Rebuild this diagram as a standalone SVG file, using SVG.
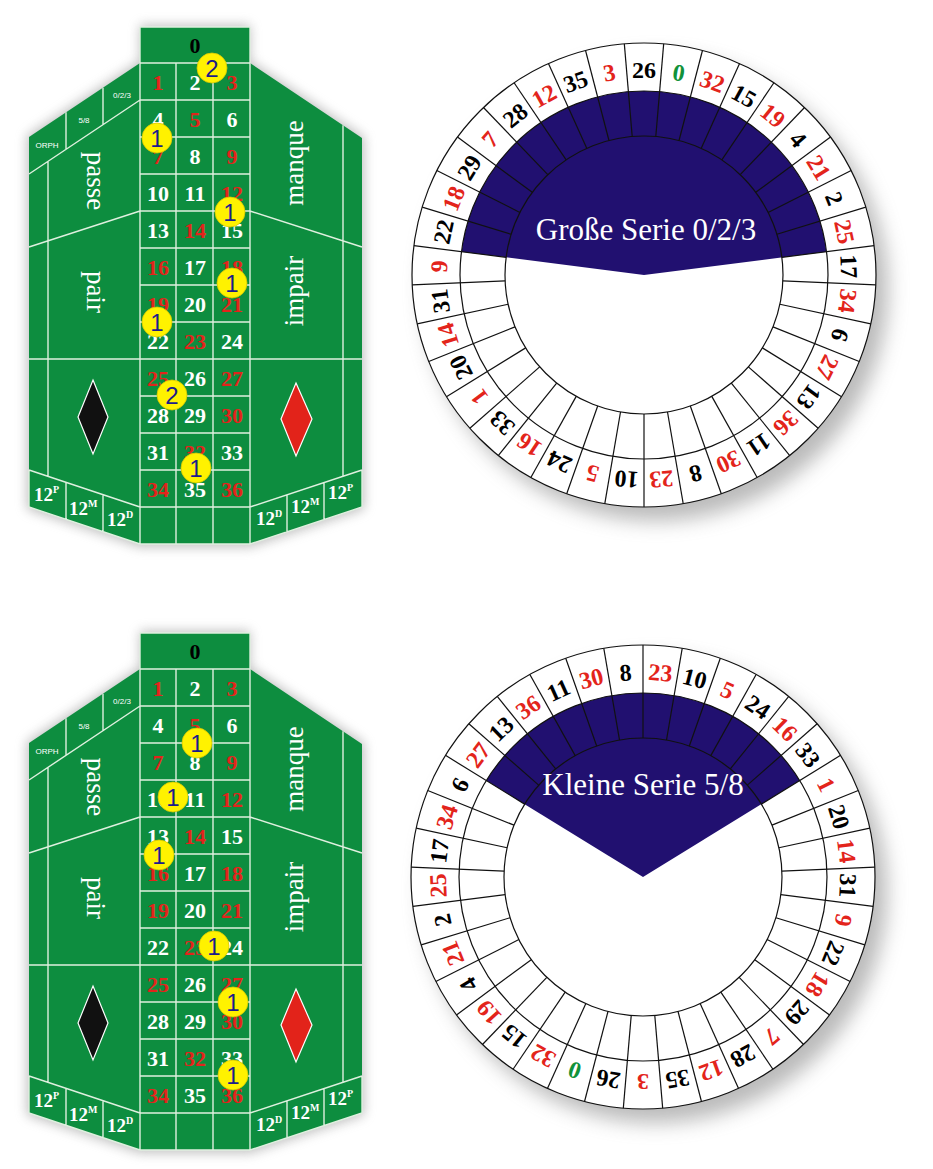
<svg xmlns="http://www.w3.org/2000/svg" xmlns:xlink="http://www.w3.org/1999/xlink" width="933" height="1169" viewBox="0 0 933 1169">
<defs>
<style>
.felt{fill:#0d8d3f}
.halo{fill:#8a8a8a;opacity:.55}
.ln{stroke:#dff0df;stroke-width:1.4;fill:none}
.n{font-family:"Liberation Serif",serif;font-weight:bold;font-size:22px;text-anchor:middle}
.w{fill:#fff}.r{fill:#e3241b}.k{fill:#000}.g{fill:#11923a}
.lbl{font-family:"Liberation Serif",serif;font-size:27px;fill:#fff;text-anchor:middle}
.dz{font-family:"Liberation Serif",serif;font-weight:bold;font-size:19px;fill:#fff}
.sup{font-size:10px}
.sm{font-family:"Liberation Sans",sans-serif;font-size:8px;fill:#fff;text-anchor:middle}
.chip circle{fill:#fff200;stroke:#d8c800;stroke-width:.8}
.chip text{font-family:"Liberation Sans",sans-serif;font-size:24px;fill:#1c1c8a;text-anchor:middle}
.wl{stroke:#111;stroke-width:1.2;fill:none}
.disc{fill:#fff;stroke:#111;stroke-width:1.2}
.blue{fill:#211070}
.wsh{fill:#777;opacity:.5}
.wn{font-family:"Liberation Serif",serif;font-weight:bold;font-size:24px;text-anchor:middle}
.ser{font-family:"Liberation Serif",serif;font-size:31px;fill:#fff;text-anchor:middle}
</style>
<filter id="blur6" x="-20%" y="-20%" width="140%" height="140%"><feGaussianBlur stdDeviation="6"/></filter>
<filter id="blur10" x="-20%" y="-20%" width="140%" height="140%"><feGaussianBlur stdDeviation="10"/></filter>
<line id="spoke" class="wl" x1="0" y1="-139" x2="0" y2="-232"/>
</defs>
<rect width="933" height="1169" fill="#fff"/>

<g id="table1">
<polygon class="halo" filter="url(#blur6)" points="140,25 250,25 250,61 364,137 364,509 250,547 140,547 27,509 27,136 140,61"/>
<polygon class="felt" points="140,27 250,27 250,63 362,138 362,507 250,544 140,544 29,507 29,137 140,63"/>
<path class="ln" d="M140,27H250 M140,27V544 M176,63V544 M213,63V544 M250,27V544 M140,63H250 M140,100H250 M140,137H250 M140,174H250 M140,211H250 M140,248H250 M140,285H250 M140,322H250 M140,359H250 M140,396H250 M140,433H250 M140,470H250 M140,507H250 M140,544H250 M140,100L29,174 M103,87.7V124.7 M66,112.3V149.3 M48,161.3V476.3 M29,247L140,211 M29,359H140 M29,470L140,507 M29,507L140,544 M29,470V507 M66,482.3V519.3 M103,494.7V531.7 M343,125.3V476.3 M250,211L362,247 M250,359H362 M250,507L362,470 M250,544L362,507 M362,470V507 M287,494.8V531.8 M324,482.3V519.3"/>
<text class="n k" x="195" y="53">0</text>
<text class="n" y="90"><tspan x="158" class="r">1</tspan><tspan x="195" class="w">2</tspan><tspan x="232" class="r">3</tspan></text>
<text class="n" y="127"><tspan x="158" class="w">4</tspan><tspan x="195" class="r">5</tspan><tspan x="232" class="w">6</tspan></text>
<text class="n" y="164"><tspan x="158" class="r">7</tspan><tspan x="195" class="w">8</tspan><tspan x="232" class="r">9</tspan></text>
<text class="n" y="201"><tspan x="158" class="w">10</tspan><tspan x="195" class="w">11</tspan><tspan x="232" class="r">12</tspan></text>
<text class="n" y="238"><tspan x="158" class="w">13</tspan><tspan x="195" class="r">14</tspan><tspan x="232" class="w">15</tspan></text>
<text class="n" y="275"><tspan x="158" class="r">16</tspan><tspan x="195" class="w">17</tspan><tspan x="232" class="r">18</tspan></text>
<text class="n" y="312"><tspan x="158" class="r">19</tspan><tspan x="195" class="w">20</tspan><tspan x="232" class="r">21</tspan></text>
<text class="n" y="349"><tspan x="158" class="w">22</tspan><tspan x="195" class="r">23</tspan><tspan x="232" class="w">24</tspan></text>
<text class="n" y="386"><tspan x="158" class="r">25</tspan><tspan x="195" class="w">26</tspan><tspan x="232" class="r">27</tspan></text>
<text class="n" y="423"><tspan x="158" class="w">28</tspan><tspan x="195" class="w">29</tspan><tspan x="232" class="r">30</tspan></text>
<text class="n" y="460"><tspan x="158" class="w">31</tspan><tspan x="195" class="r">32</tspan><tspan x="232" class="w">33</tspan></text>
<text class="n" y="497"><tspan x="158" class="r">34</tspan><tspan x="195" class="w">35</tspan><tspan x="232" class="r">36</tspan></text>
<text class="lbl" transform="translate(87,181) rotate(90)">passe</text>
<text class="lbl" transform="translate(87,292) rotate(90)">pair</text>
<text class="lbl" transform="translate(303,163) rotate(-90)">manque</text>
<text class="lbl" transform="translate(303,291) rotate(-90)">impair</text>
<text class="sm" x="122" y="98">0/2/3</text>
<text class="sm" x="84" y="123">5/8</text>
<text class="sm" x="47" y="148">ORPH</text>
<polygon points="93,380 108,417 93,454 78,417" fill="#111" stroke="#fff" stroke-width="1.2"/>
<polygon points="296,383 312,419 296,456 281,419" fill="#e2231a" stroke="#fff" stroke-width="1.2"/>
<text class="dz" x="34" y="501">12<tspan class="sup" dy="-8">P</tspan></text>
<text class="dz" x="69" y="515">12<tspan class="sup" dy="-8">M</tspan></text>
<text class="dz" x="107" y="526">12<tspan class="sup" dy="-8">D</tspan></text>
<text class="dz" x="256" y="525">12<tspan class="sup" dy="-8">D</tspan></text>
<text class="dz" x="291" y="513">12<tspan class="sup" dy="-8">M</tspan></text>
<text class="dz" x="328" y="499">12<tspan class="sup" dy="-8">P</tspan></text>
<g class="chip"><circle cx="212" cy="68" r="15"/><text x="212" y="77">2</text></g>
<g class="chip"><circle cx="157" cy="138" r="15"/><text x="157" y="147">1</text></g>
<g class="chip"><circle cx="230" cy="212" r="15"/><text x="230" y="221">1</text></g>
<g class="chip"><circle cx="232" cy="283" r="15"/><text x="232" y="292">1</text></g>
<g class="chip"><circle cx="157" cy="322" r="15"/><text x="157" y="331">1</text></g>
<g class="chip"><circle cx="172" cy="395" r="15"/><text x="172" y="404">2</text></g>
<g class="chip"><circle cx="196" cy="468" r="15"/><text x="196" y="477">1</text></g>
</g>

<g id="table2" transform="translate(0,606)">
<polygon class="halo" filter="url(#blur6)" points="140,25 250,25 250,61 364,137 364,509 250,547 140,547 27,509 27,136 140,61"/>
<polygon class="felt" points="140,27 250,27 250,63 362,138 362,507 250,544 140,544 29,507 29,137 140,63"/>
<path class="ln" d="M140,27H250 M140,27V544 M176,63V544 M213,63V544 M250,27V544 M140,63H250 M140,100H250 M140,137H250 M140,174H250 M140,211H250 M140,248H250 M140,285H250 M140,322H250 M140,359H250 M140,396H250 M140,433H250 M140,470H250 M140,507H250 M140,544H250 M140,100L29,174 M103,87.7V124.7 M66,112.3V149.3 M48,161.3V476.3 M29,247L140,211 M29,359H140 M29,470L140,507 M29,507L140,544 M29,470V507 M66,482.3V519.3 M103,494.7V531.7 M343,125.3V476.3 M250,211L362,247 M250,359H362 M250,507L362,470 M250,544L362,507 M362,470V507 M287,494.8V531.8 M324,482.3V519.3"/>
<text class="n k" x="195" y="53">0</text>
<text class="n" y="90"><tspan x="158" class="r">1</tspan><tspan x="195" class="w">2</tspan><tspan x="232" class="r">3</tspan></text>
<text class="n" y="127"><tspan x="158" class="w">4</tspan><tspan x="195" class="r">5</tspan><tspan x="232" class="w">6</tspan></text>
<text class="n" y="164"><tspan x="158" class="r">7</tspan><tspan x="195" class="w">8</tspan><tspan x="232" class="r">9</tspan></text>
<text class="n" y="201"><tspan x="158" class="w">10</tspan><tspan x="195" class="w">11</tspan><tspan x="232" class="r">12</tspan></text>
<text class="n" y="238"><tspan x="158" class="w">13</tspan><tspan x="195" class="r">14</tspan><tspan x="232" class="w">15</tspan></text>
<text class="n" y="275"><tspan x="158" class="r">16</tspan><tspan x="195" class="w">17</tspan><tspan x="232" class="r">18</tspan></text>
<text class="n" y="312"><tspan x="158" class="r">19</tspan><tspan x="195" class="w">20</tspan><tspan x="232" class="r">21</tspan></text>
<text class="n" y="349"><tspan x="158" class="w">22</tspan><tspan x="195" class="r">23</tspan><tspan x="232" class="w">24</tspan></text>
<text class="n" y="386"><tspan x="158" class="r">25</tspan><tspan x="195" class="w">26</tspan><tspan x="232" class="r">27</tspan></text>
<text class="n" y="423"><tspan x="158" class="w">28</tspan><tspan x="195" class="w">29</tspan><tspan x="232" class="r">30</tspan></text>
<text class="n" y="460"><tspan x="158" class="w">31</tspan><tspan x="195" class="r">32</tspan><tspan x="232" class="w">33</tspan></text>
<text class="n" y="497"><tspan x="158" class="r">34</tspan><tspan x="195" class="w">35</tspan><tspan x="232" class="r">36</tspan></text>
<text class="lbl" transform="translate(87,181) rotate(90)">passe</text>
<text class="lbl" transform="translate(87,292) rotate(90)">pair</text>
<text class="lbl" transform="translate(303,163) rotate(-90)">manque</text>
<text class="lbl" transform="translate(303,291) rotate(-90)">impair</text>
<text class="sm" x="122" y="98">0/2/3</text>
<text class="sm" x="84" y="123">5/8</text>
<text class="sm" x="47" y="148">ORPH</text>
<polygon points="93,380 108,417 93,454 78,417" fill="#111" stroke="#fff" stroke-width="1.2"/>
<polygon points="296,383 312,419 296,456 281,419" fill="#e2231a" stroke="#fff" stroke-width="1.2"/>
<text class="dz" x="34" y="501">12<tspan class="sup" dy="-8">P</tspan></text>
<text class="dz" x="69" y="515">12<tspan class="sup" dy="-8">M</tspan></text>
<text class="dz" x="107" y="526">12<tspan class="sup" dy="-8">D</tspan></text>
<text class="dz" x="256" y="525">12<tspan class="sup" dy="-8">D</tspan></text>
<text class="dz" x="291" y="513">12<tspan class="sup" dy="-8">M</tspan></text>
<text class="dz" x="328" y="499">12<tspan class="sup" dy="-8">P</tspan></text>
<g class="chip"><circle cx="197" cy="137" r="15"/><text x="197" y="146">1</text></g>
<g class="chip"><circle cx="173" cy="191" r="15"/><text x="173" y="200">1</text></g>
<g class="chip"><circle cx="159" cy="249" r="15"/><text x="159" y="258">1</text></g>
<g class="chip"><circle cx="214" cy="340" r="15"/><text x="214" y="349">1</text></g>
<g class="chip"><circle cx="233" cy="396" r="15"/><text x="233" y="405">1</text></g>
<g class="chip"><circle cx="233" cy="469" r="15"/><text x="233" y="478">1</text></g>
</g>

<g id="wheel1" transform="translate(644,275)">
<circle class="wsh" r="232" transform="translate(12,14)" filter="url(#blur10)"/>
<circle class="disc" r="232"/>
<path class="blue" d="M-182.51,-23.37 A184,184 0 0 1 182.51,-23.37 L0,0 Z"/>
<circle class="wl" r="184"/>
<circle class="wl" r="139"/>
<g>
<use xlink:href="#spoke" transform="rotate(4.865)"/><use xlink:href="#spoke" transform="rotate(14.595)"/><use xlink:href="#spoke" transform="rotate(24.324)"/><use xlink:href="#spoke" transform="rotate(34.054)"/><use xlink:href="#spoke" transform="rotate(43.784)"/><use xlink:href="#spoke" transform="rotate(53.514)"/><use xlink:href="#spoke" transform="rotate(63.243)"/><use xlink:href="#spoke" transform="rotate(72.973)"/><use xlink:href="#spoke" transform="rotate(82.703)"/><use xlink:href="#spoke" transform="rotate(92.432)"/><use xlink:href="#spoke" transform="rotate(102.162)"/><use xlink:href="#spoke" transform="rotate(111.892)"/><use xlink:href="#spoke" transform="rotate(121.622)"/><use xlink:href="#spoke" transform="rotate(131.351)"/><use xlink:href="#spoke" transform="rotate(141.081)"/><use xlink:href="#spoke" transform="rotate(150.811)"/><use xlink:href="#spoke" transform="rotate(160.541)"/><use xlink:href="#spoke" transform="rotate(170.270)"/><use xlink:href="#spoke" transform="rotate(180)"/><use xlink:href="#spoke" transform="rotate(189.730)"/><use xlink:href="#spoke" transform="rotate(199.459)"/><use xlink:href="#spoke" transform="rotate(209.189)"/><use xlink:href="#spoke" transform="rotate(218.919)"/><use xlink:href="#spoke" transform="rotate(228.649)"/><use xlink:href="#spoke" transform="rotate(238.378)"/><use xlink:href="#spoke" transform="rotate(248.108)"/><use xlink:href="#spoke" transform="rotate(257.838)"/><use xlink:href="#spoke" transform="rotate(267.568)"/><use xlink:href="#spoke" transform="rotate(277.297)"/><use xlink:href="#spoke" transform="rotate(287.027)"/><use xlink:href="#spoke" transform="rotate(296.757)"/><use xlink:href="#spoke" transform="rotate(306.486)"/><use xlink:href="#spoke" transform="rotate(316.216)"/><use xlink:href="#spoke" transform="rotate(325.946)"/><use xlink:href="#spoke" transform="rotate(335.676)"/><use xlink:href="#spoke" transform="rotate(345.405)"/><use xlink:href="#spoke" transform="rotate(355.135)"/>
</g>
<g>
<text class="wn k" y="-197" transform="rotate(0)">26</text>
<text class="wn g" y="-197" transform="rotate(9.730)">0</text>
<text class="wn r" y="-197" transform="rotate(19.459)">32</text>
<text class="wn k" y="-197" transform="rotate(29.189)">15</text>
<text class="wn r" y="-197" transform="rotate(38.919)">19</text>
<text class="wn k" y="-197" transform="rotate(48.649)">4</text>
<text class="wn r" y="-197" transform="rotate(58.378)">21</text>
<text class="wn k" y="-197" transform="rotate(68.108)">2</text>
<text class="wn r" y="-197" transform="rotate(77.838)">25</text>
<text class="wn k" y="-197" transform="rotate(87.568)">17</text>
<text class="wn r" y="-197" transform="rotate(97.297)">34</text>
<text class="wn k" y="-197" transform="rotate(107.027)">6</text>
<text class="wn r" y="-197" transform="rotate(116.757)">27</text>
<text class="wn k" y="-197" transform="rotate(126.486)">13</text>
<text class="wn r" y="-197" transform="rotate(136.216)">36</text>
<text class="wn k" y="-197" transform="rotate(145.946)">11</text>
<text class="wn r" y="-197" transform="rotate(155.676)">30</text>
<text class="wn k" y="-197" transform="rotate(165.405)">8</text>
<text class="wn r" y="-197" transform="rotate(175.135)">23</text>
<text class="wn k" y="-197" transform="rotate(184.865)">10</text>
<text class="wn r" y="-197" transform="rotate(194.595)">5</text>
<text class="wn k" y="-197" transform="rotate(204.324)">24</text>
<text class="wn r" y="-197" transform="rotate(214.054)">16</text>
<text class="wn k" y="-197" transform="rotate(223.784)">33</text>
<text class="wn r" y="-197" transform="rotate(233.514)">1</text>
<text class="wn k" y="-197" transform="rotate(243.243)">20</text>
<text class="wn r" y="-197" transform="rotate(252.973)">14</text>
<text class="wn k" y="-197" transform="rotate(262.703)">31</text>
<text class="wn r" y="-197" transform="rotate(272.432)">9</text>
<text class="wn k" y="-197" transform="rotate(282.162)">22</text>
<text class="wn r" y="-197" transform="rotate(291.892)">18</text>
<text class="wn k" y="-197" transform="rotate(301.622)">29</text>
<text class="wn r" y="-197" transform="rotate(311.351)">7</text>
<text class="wn k" y="-197" transform="rotate(321.081)">28</text>
<text class="wn r" y="-197" transform="rotate(330.811)">12</text>
<text class="wn k" y="-197" transform="rotate(340.541)">35</text>
<text class="wn r" y="-197" transform="rotate(350.270)">3</text>
</g>
<text class="ser" x="2" y="-35">Große Serie 0/2/3</text>
</g>

<g id="wheel2" transform="translate(643,877)">
<circle class="wsh" r="232" transform="translate(12,14)" filter="url(#blur10)"/>
<circle class="disc" r="232"/>
<path class="blue" d="M-156.70,-96.45 A184,184 0 0 1 156.70,-96.45 L0,0 Z"/>
<circle class="wl" r="184"/>
<circle class="wl" r="139"/>
<g>
<use xlink:href="#spoke" transform="rotate(0)"/><use xlink:href="#spoke" transform="rotate(9.730)"/><use xlink:href="#spoke" transform="rotate(19.459)"/><use xlink:href="#spoke" transform="rotate(29.189)"/><use xlink:href="#spoke" transform="rotate(38.919)"/><use xlink:href="#spoke" transform="rotate(48.649)"/><use xlink:href="#spoke" transform="rotate(58.378)"/><use xlink:href="#spoke" transform="rotate(68.108)"/><use xlink:href="#spoke" transform="rotate(77.838)"/><use xlink:href="#spoke" transform="rotate(87.568)"/><use xlink:href="#spoke" transform="rotate(97.297)"/><use xlink:href="#spoke" transform="rotate(107.027)"/><use xlink:href="#spoke" transform="rotate(116.757)"/><use xlink:href="#spoke" transform="rotate(126.486)"/><use xlink:href="#spoke" transform="rotate(136.216)"/><use xlink:href="#spoke" transform="rotate(145.946)"/><use xlink:href="#spoke" transform="rotate(155.676)"/><use xlink:href="#spoke" transform="rotate(165.405)"/><use xlink:href="#spoke" transform="rotate(175.135)"/><use xlink:href="#spoke" transform="rotate(184.865)"/><use xlink:href="#spoke" transform="rotate(194.595)"/><use xlink:href="#spoke" transform="rotate(204.324)"/><use xlink:href="#spoke" transform="rotate(214.054)"/><use xlink:href="#spoke" transform="rotate(223.784)"/><use xlink:href="#spoke" transform="rotate(233.514)"/><use xlink:href="#spoke" transform="rotate(243.243)"/><use xlink:href="#spoke" transform="rotate(252.973)"/><use xlink:href="#spoke" transform="rotate(262.703)"/><use xlink:href="#spoke" transform="rotate(272.432)"/><use xlink:href="#spoke" transform="rotate(282.162)"/><use xlink:href="#spoke" transform="rotate(291.892)"/><use xlink:href="#spoke" transform="rotate(301.622)"/><use xlink:href="#spoke" transform="rotate(311.351)"/><use xlink:href="#spoke" transform="rotate(321.081)"/><use xlink:href="#spoke" transform="rotate(330.811)"/><use xlink:href="#spoke" transform="rotate(340.541)"/><use xlink:href="#spoke" transform="rotate(350.270)"/>
</g>
<g>
<text class="wn r" y="-197" transform="rotate(4.865)">23</text>
<text class="wn k" y="-197" transform="rotate(14.595)">10</text>
<text class="wn r" y="-197" transform="rotate(24.324)">5</text>
<text class="wn k" y="-197" transform="rotate(34.054)">24</text>
<text class="wn r" y="-197" transform="rotate(43.784)">16</text>
<text class="wn k" y="-197" transform="rotate(53.514)">33</text>
<text class="wn r" y="-197" transform="rotate(63.243)">1</text>
<text class="wn k" y="-197" transform="rotate(72.973)">20</text>
<text class="wn r" y="-197" transform="rotate(82.703)">14</text>
<text class="wn k" y="-197" transform="rotate(92.432)">31</text>
<text class="wn r" y="-197" transform="rotate(102.162)">9</text>
<text class="wn k" y="-197" transform="rotate(111.892)">22</text>
<text class="wn r" y="-197" transform="rotate(121.622)">18</text>
<text class="wn k" y="-197" transform="rotate(131.351)">29</text>
<text class="wn r" y="-197" transform="rotate(141.081)">7</text>
<text class="wn k" y="-197" transform="rotate(150.811)">28</text>
<text class="wn r" y="-197" transform="rotate(160.541)">12</text>
<text class="wn k" y="-197" transform="rotate(170.270)">35</text>
<text class="wn r" y="-197" transform="rotate(180)">3</text>
<text class="wn k" y="-197" transform="rotate(189.730)">26</text>
<text class="wn g" y="-197" transform="rotate(199.459)">0</text>
<text class="wn r" y="-197" transform="rotate(209.189)">32</text>
<text class="wn k" y="-197" transform="rotate(218.919)">15</text>
<text class="wn r" y="-197" transform="rotate(228.649)">19</text>
<text class="wn k" y="-197" transform="rotate(238.378)">4</text>
<text class="wn r" y="-197" transform="rotate(248.108)">21</text>
<text class="wn k" y="-197" transform="rotate(257.838)">2</text>
<text class="wn r" y="-197" transform="rotate(267.568)">25</text>
<text class="wn k" y="-197" transform="rotate(277.297)">17</text>
<text class="wn r" y="-197" transform="rotate(287.027)">34</text>
<text class="wn k" y="-197" transform="rotate(296.757)">6</text>
<text class="wn r" y="-197" transform="rotate(306.486)">27</text>
<text class="wn k" y="-197" transform="rotate(316.216)">13</text>
<text class="wn r" y="-197" transform="rotate(325.946)">36</text>
<text class="wn k" y="-197" transform="rotate(335.676)">11</text>
<text class="wn r" y="-197" transform="rotate(345.405)">30</text>
<text class="wn k" y="-197" transform="rotate(355.135)">8</text>
</g>
<text class="ser" x="0" y="-82">Kleine Serie 5/8</text>
</g>
</svg>
